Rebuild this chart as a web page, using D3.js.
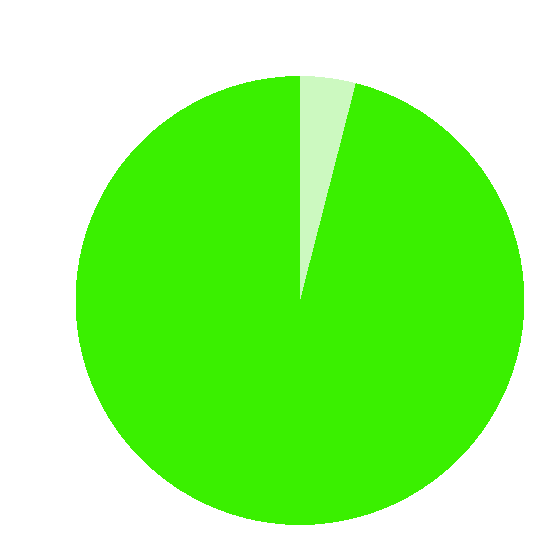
<!DOCTYPE html>
<html>
<head>
<meta charset="utf-8">
<script src="https://cdn.jsdelivr.net/npm/d3@7"></script>
<style>
  html, body { margin: 0; padding: 0; background: #fff; }
  svg { display: block; }
</style>
</head>
<body>
<svg width="550" height="550"></svg>
<script>
// slice labels and values
const categories = ['A', 'B'];
const values = [4, 96];
const colors = ['#ccf9c0', '#3af000'];

const svg = d3.select('svg');
const width = 550, height = 550;
const radius = 224.5;

const color = d3.scaleOrdinal().domain(categories).range(colors);

const pie = d3.pie().sort(null).value(d => d.value);
const arc = d3.arc().innerRadius(0).outerRadius(radius);

const data = categories.map((c, i) => ({ name: c, value: values[i] }));

const g = svg.append('g')
    .attr('transform', `translate(300,300.5)`);

g.selectAll('path')
    .data(pie(data))
    .join('path')
    .attr('d', arc)
    .attr('fill', d => color(d.data.name))
    .attr('shape-rendering', 'crispEdges');
</script>
</body>
</html>
